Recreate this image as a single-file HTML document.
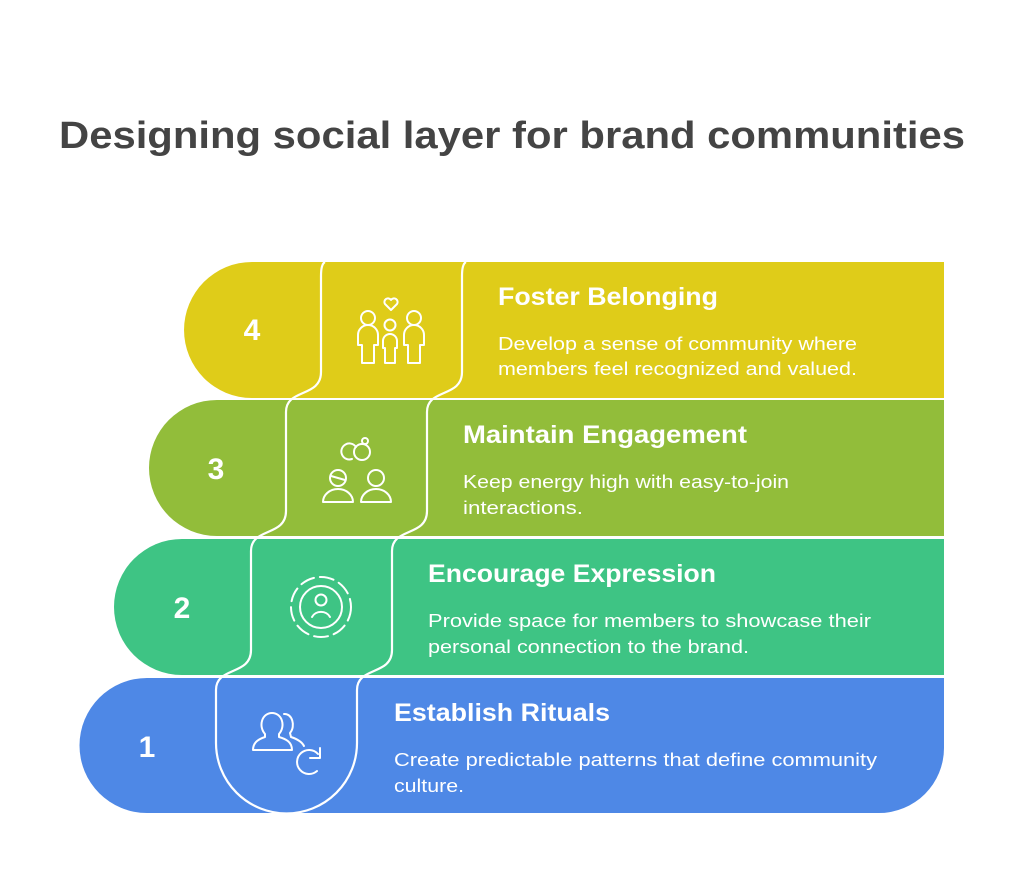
<!DOCTYPE html>
<html><head><meta charset="utf-8"><style>
html,body{margin:0;padding:0;background:#fff;}
svg{display:block;}
text{font-family:"Liberation Sans",sans-serif;}
</style></head><body>
<svg width="1024" height="885" viewBox="0 0 1024 885" xmlns="http://www.w3.org/2000/svg">
<text x="512" y="148" text-anchor="middle" font-size="38" font-weight="bold" fill="#444" textLength="906" lengthAdjust="spacingAndGlyphs">Designing social layer for brand communities</text>

<path d="M252 262 H944 V398 H252 A68 68 0 0 1 252 262 Z" fill="#DFCC19"/>
<path d="M217 400 H944 V536 H217 A68 68 0 0 1 217 400 Z" fill="#92BD3A"/>
<path d="M182 539 H944 V675 H182 A68 68 0 0 1 182 539 Z" fill="#3EC484"/>
<path d="M147 678 H944 V748 A65 65 0 0 1 879 813 H147 A67.5 67.5 0 0 1 147 678 Z" fill="#4E88E6"/>

<path d="M325 262 Q321 264 321 276 L321 372 C321 398 286 388 286 412 L286 511 C286 537 251 527 251 551 L251 650 C251 676 216 666 216 690 L216 743 A70.5 70.5 0 0 0 357 743 L357 690 C357 666 392 676 392 650 L392 551 C392 527 427 537 427 511 L427 412 C427 388 462 398 462 372 L462 276 Q462 264 466 262" fill="none" stroke="#fff" stroke-width="2.2"/>

<g font-size="30" font-weight="bold" fill="#fff" text-anchor="middle">
<text x="252" y="340">4</text>
<text x="216" y="479">3</text>
<text x="182" y="618">2</text>
<text x="147" y="757">1</text>
</g>

<g fill="#fff">
<text x="498" y="305" font-size="25" font-weight="bold" textLength="220" lengthAdjust="spacingAndGlyphs">Foster Belonging</text>
<text x="498" y="350" font-size="18" textLength="359" lengthAdjust="spacingAndGlyphs">Develop a sense of community where</text>
<text x="498" y="375" font-size="18" textLength="359" lengthAdjust="spacingAndGlyphs">members feel recognized and valued.</text>

<text x="463" y="443" font-size="25" font-weight="bold" textLength="284" lengthAdjust="spacingAndGlyphs">Maintain Engagement</text>
<text x="463" y="488" font-size="18" textLength="326" lengthAdjust="spacingAndGlyphs">Keep energy high with easy-to-join</text>
<text x="463" y="514" font-size="18" textLength="120" lengthAdjust="spacingAndGlyphs">interactions.</text>

<text x="428" y="582" font-size="25" font-weight="bold" textLength="288" lengthAdjust="spacingAndGlyphs">Encourage Expression</text>
<text x="428" y="627" font-size="18" textLength="443" lengthAdjust="spacingAndGlyphs">Provide space for members to showcase their</text>
<text x="428" y="653" font-size="18" textLength="321" lengthAdjust="spacingAndGlyphs">personal connection to the brand.</text>

<text x="394" y="721" font-size="25" font-weight="bold" textLength="216" lengthAdjust="spacingAndGlyphs">Establish Rituals</text>
<text x="394" y="766" font-size="18" textLength="483" lengthAdjust="spacingAndGlyphs">Create predictable patterns that define community</text>
<text x="394" y="792" font-size="18" textLength="70" lengthAdjust="spacingAndGlyphs">culture.</text>
</g>

<g fill="none" stroke="#fff" stroke-width="2" stroke-linecap="round" stroke-linejoin="round">
  <path d="M391 310 L385 304 A3 3 0 0 1 391 300 A3 3 0 0 1 397 304 Z"/>
  <circle cx="368" cy="318" r="7"/>
  <circle cx="390" cy="325" r="5.5"/>
  <circle cx="414" cy="318" r="7"/>
  <path d="M358 345 V335 A10 10 0 0 1 378 335 V345 H374 V363 H362 V345 Z"/>
  <path d="M383 348 V341 A7 7 0 0 1 397 341 V348 H395 V363 H385 V348 Z"/>
  <path d="M404 345 V335 A10 10 0 0 1 424 335 V345 H420 V363 H408 V345 Z"/>
  <path d="M356 447 A8 8 0 1 0 352 459"/>
  <circle cx="362" cy="452" r="8"/>
  <circle cx="365" cy="441" r="3"/>
  <circle cx="338" cy="478" r="8"/>
  <path d="M323 502 A15 13 0 0 1 353 502 Z"/>
  <circle cx="376" cy="478" r="8"/>
  <path d="M361 502 A15 13 0 0 1 391 502 Z"/>
  <path d="M331 476 L345 480"/>
  <circle cx="321" cy="607" r="21"/>
  <circle cx="321" cy="600" r="5.5"/>
  <path d="M312 617 A10 9 0 0 1 330 617"/>
  <circle cx="321" cy="607" r="30" stroke-dasharray="14 6"/>
  <path d="M265 734 C258 726 262 713 272 713 C282 713 286 726 279 734 L279 737 C286 739 292 742 292 750 H253 C253 742 259 739 265 737 Z"/>
  <path d="M284 714 C292 713 296 726 290 733 L291 737 C297 739 302 742 304 746"/>
  <path d="M317 771 A12 12 0 1 1 318 754"/>
  <path d="M320 748 L320 758 L310 758"/>
</g>
</svg>
</body></html>
